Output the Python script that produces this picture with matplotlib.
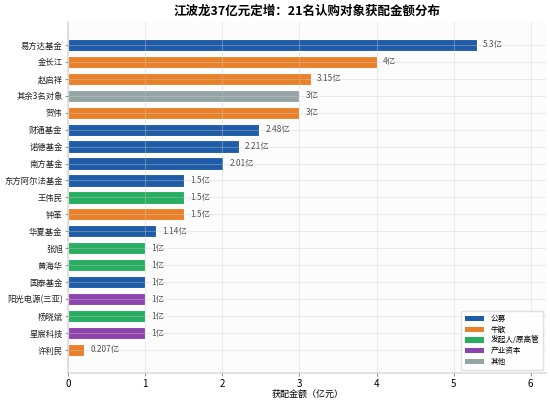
import matplotlib
matplotlib.use("Agg")
import matplotlib.pyplot as plt
from matplotlib.patches import Patch

plt.rcParams['font.family'] = ['Noto Sans CJK SC', 'DejaVu Sans']

names = ["易方达基金", "金长江", "赵启祥", "其余3名对象", "贺伟", "财通基金", "诺德基金", "南方基金",
         "东方阿尔法基金", "王伟民", "钟革", "华夏基金", "张旭", "黄海华", "国泰基金", "阳光电源(三亚)",
         "杨晓斌", "星宸科技", "许利民"]
values = [5.3, 4, 3.15, 3, 3, 2.48, 2.21, 2.01, 1.5, 1.5, 1.5, 1.14, 1, 1, 1, 1, 1, 1, 0.207]
labels = ["5.3亿", "4亿", "3.15亿", "3亿", "3亿", "2.48亿", "2.21亿", "2.01亿", "1.5亿", "1.5亿", "1.5亿",
          "1.14亿", "1亿", "1亿", "1亿", "1亿", "1亿", "1亿", "0.207亿"]
types = ["公募", "牛散", "牛散", "其他", "牛散", "公募", "公募", "公募", "公募", "发起人/原高管", "牛散",
         "公募", "发起人/原高管", "发起人/原高管", "公募", "产业资本", "发起人/原高管", "产业资本", "牛散"]
type_order = ["公募", "牛散", "发起人/原高管", "产业资本", "其他"]
type_colors = {"公募": "#1f5ca8", "牛散": "#e8812a", "发起人/原高管": "#27ae60",
               "产业资本": "#8e44ad", "其他": "#95a5a6"}

fig = plt.figure(figsize=(5.5, 4.05), dpi=100)
ax = fig.add_axes([0.124, 0.079, 0.869, 0.867])
ax.set_facecolor("#fcfcfc")

ypos = list(range(len(names)))
bars = ax.barh(ypos, values, height=0.72, color=[type_colors[t] for t in types],
               edgecolor="white", linewidth=0.8, zorder=1)
for y, v, lab in zip(ypos, values, labels):
    ax.text(v + 0.08, y, lab, va="center", ha="left", fontsize=6, color="#555555")

ax.set_yticks(ypos)
ax.set_yticklabels(names, fontsize=6, color="#222222")
ax.set_ylim(len(names) - 1 + 1.36, -1.36)
ax.set_xlim(0, 6.2)
ax.set_xticks([0, 1, 2, 3, 4, 5, 6])
ax.tick_params(axis="x", labelsize=7, length=2, color="#999999", pad=2)
ax.tick_params(axis="y", length=2, color="#999999", pad=2)
ax.set_xlabel("获配金额（亿元）", fontsize=6.5, labelpad=1)
ax.set_title("江波龙37亿元定增：21名认购对象获配金额分布", fontsize=9, fontweight="bold", pad=5)

ax.grid(True, color="#cccccc", linewidth=0.8, alpha=0.35, zorder=2)
ax.set_axisbelow(False)
for s in ["top", "right"]:
    ax.spines[s].set_visible(False)
for s in ["left", "bottom"]:
    ax.spines[s].set_color("#dddddd")
    ax.spines[s].set_linewidth(1.2)

handles = [Patch(facecolor=type_colors[t], label=t) for t in type_order]
ax.legend(handles=handles, loc="lower right", fontsize=5.5, frameon=True, framealpha=0.9,
          edgecolor="#dddddd", handlelength=2.6, handleheight=0.7, borderpad=0.5, labelspacing=0.35,
          handletextpad=0.8, borderaxespad=0.4)

fig.savefig("out.png", dpi=100)
